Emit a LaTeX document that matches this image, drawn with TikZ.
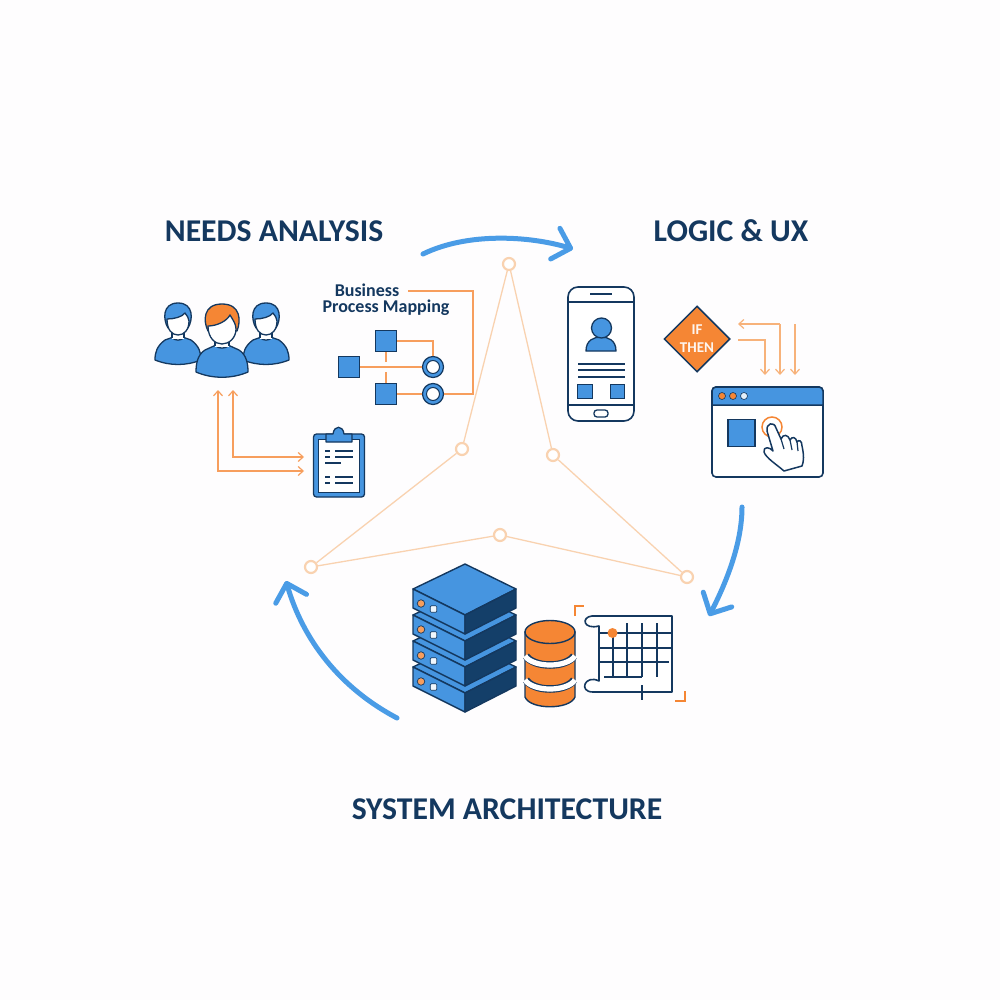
\documentclass[tikz,border=0pt]{standalone}
\usepackage{fontspec}
\setmainfont{Carlito}
\usetikzlibrary{arrows.meta,shapes.geometric}
\definecolor{navy}{HTML}{14385F}
\definecolor{skyblue}{HTML}{4695E0}
\definecolor{flowblue}{HTML}{4A9CE6}
\definecolor{deepblue}{HTML}{143F69}
\definecolor{tangerine}{HTML}{F58634}
\definecolor{peach}{HTML}{F7B27A}
\definecolor{pale}{HTML}{F9D2B0}
\definecolor{paper}{HTML}{FEFDFE}
\begin{document}
\begin{tikzpicture}[x=1pt,y=-1pt]
    \tikzstyle{title} = [text=navy, font=\fontsize{31.7}{34}\selectfont\bfseries, inner sep=0pt]
    \tikzstyle{flow} = [draw=flowblue, line width=5pt, line cap=round, -{Straight Barb[round,length=16pt,width=32pt,line width=5pt]}]
    \tikzstyle{wire} = [draw=tangerine!80!white, line width=1.3pt]
    \tikzstyle{wirearrow} = [wire, -{Straight Barb[length=5pt,width=9pt,line width=1.2pt]}]
    \tikzstyle{mesh} = [draw=pale, line width=1.3pt]
    \tikzstyle{hub} = [circle, draw=pale, fill=white, line width=2.2pt, minimum size=12pt, inner sep=0pt]
    \tikzstyle{sq} = [rectangle, draw=navy, fill=skyblue, line width=1.5pt, minimum size=21pt, inner sep=0pt]
    \tikzstyle{ring} = [circle, draw=navy, fill=skyblue, line width=1.2pt, minimum size=21pt, inner sep=0pt]
    \tikzstyle{outline} = [draw=navy, line width=1.6pt, line join=round]
    \tikzstyle{txtline} = [draw=navy, line width=1.3pt]
    \tikzstyle{body} = [fill=skyblue, draw=navy, line width=1.3pt, line join=round]
    \tikzstyle{small} = [text=navy, font=\fontsize{18}{20}\selectfont\bfseries, inner sep=0pt]

    \fill[paper] (0,0) rectangle (1000,1000);
    \useasboundingbox (0,0) rectangle (1000,1000);

    \node[title] (needs) at (274,231) {NEEDS ANALYSIS};
    \node[title] (logic) at (731,231) {LOGIC \& UX};
    \node[title] (arch) at (507,809) {SYSTEM ARCHITECTURE};

    % network in the middle
    \node[hub] (n1) at (509,264) {};
    \node[hub] (n2) at (462,449) {};
    \node[hub] (n3) at (553,455) {};
    \node[hub] (n4) at (311,567) {};
    \node[hub] (n5) at (500,535) {};
    \node[hub] (n6) at (687,577) {};
    \draw[mesh] (n1) -- (n2);
    \draw[mesh] (n1) -- (n3);
    \draw[mesh] (n2) -- (n4);
    \draw[mesh] (n3) -- (n6);
    \draw[mesh] (n4) -- (n5);
    \draw[mesh] (n5) -- (n6);

    % big arrows
    \coordinate (a1) at (423,254);
    \coordinate (a2) at (573,249);
    \coordinate (b1) at (742,507);
    \coordinate (b2) at (709,616);
    \coordinate (c1) at (397,718);
    \coordinate (c2) at (286,581);
    \draw[flow] (a1) .. controls (468,232) and (530,236) .. (a2);
    \draw[flow] (b1) .. controls (742,545) and (725,585) .. (b2);
    \draw[flow] (c1) .. controls (340,688) and (303,640) .. (c2);

    % people
    \foreach \px in {178,266} {
      \begin{scope}[shift={(\px,322)}]
      \draw[body] (-23,38) .. controls (-23,30) and (-21,24) .. (-13,18) -- (-6,15.5) .. controls (-3,19) and (3,19) .. (6,15.5) -- (13,18) .. controls (21,24) and (23,30) .. (23,38) .. controls (8,44) and (-8,44) .. (-23,38) -- cycle;
      \draw[body] (-10,6) .. controls (-15,-2) and (-16,-19) .. (0,-19) .. controls (16,-19) and (15,-2) .. (10,6) -- cycle;
      \fill[white] (-6,8) rectangle (6,17);
      \draw[draw=navy, line width=1.2pt] (-6,10) -- (-6,15.5) (6,10) -- (6,15.5);
      \draw[outline, fill=white, line width=1.3pt] (-11,-3) .. controls (-4,-3) and (4,-5) .. (7,-9) .. controls (9,-6) and (11,-4) .. (11,-1) .. controls (11,8) and (6,13) .. (0,13) .. controls (-6,13) and (-11,8) .. (-11,-3) -- cycle;
      \end{scope}
    }
    \begin{scope}[shift={(222,335)}]
      \draw[body] (-26,37) .. controls (-26,30) and (-25,20) .. (-17,15) -- (-7,10.5) .. controls (-3,14) and (3,14) .. (7,10.5) -- (17,15) .. controls (25,20) and (26,30) .. (26,37) .. controls (10,44) and (-10,44) .. (-26,37) -- cycle;
      \draw[body, fill=tangerine] (-14,-4) .. controls (-19,-14) and (-19,-31) .. (0,-31) .. controls (19,-31) and (19,-14) .. (15,-4) -- cycle;
      \fill[white] (-7,4) rectangle (7,12);
      \draw[draw=navy, line width=1.2pt] (-7,5) -- (-7,10.5) (7,5) -- (7,10.5);
      \draw[outline, fill=white, line width=1.3pt] (-14,-9) .. controls (-5,-9) and (5,-14) .. (8,-20) .. controls (11,-15) and (14,-11) .. (14,-6) .. controls (14,3) and (7,9) .. (0,9) .. controls (-7,9) and (-14,3) .. (-14,-9) -- cycle;
    \end{scope}

    % clipboard
    \node[rectangle, rounded corners=3pt, draw=navy, fill=skyblue, line width=1.3pt, minimum width=51pt, minimum height=63pt, inner sep=0pt] (clip) at (339,465.5) {};
    \node[rectangle, draw=navy, fill=white, line width=1.2pt, minimum width=41pt, minimum height=53pt, inner sep=0pt] (sheet) at (339,466) {};
    \draw[draw=navy, fill=skyblue, line width=1.3pt, line join=round] (326,442) -- (326,434) -- (333,434) .. controls (334,425) and (343,425) .. (344,434) -- (352,434) -- (352,442) -- cycle;
    \foreach \ly in {451,457,477,483} {
      \draw[txtline] (325,\ly) -- (330,\ly) (335,\ly) -- (353,\ly);
    }
    \draw[txtline] (325,463) -- (341,463);

    % arrows between people and clipboard
    \coordinate (p1) at (218,390);
    \coordinate (p2) at (233,390);
    \coordinate (k1) at (304,471);
    \coordinate (k2) at (304,457);
    \draw[wire, {Straight Barb[length=5pt,width=9pt,line width=1.2pt]}-{Straight Barb[length=5pt,width=9pt,line width=1.2pt]}] (p1) |- (k1);
    \draw[wire, {Straight Barb[length=5pt,width=9pt,line width=1.2pt]}-{Straight Barb[length=5pt,width=9pt,line width=1.2pt]}] (p2) |- (k2);

    % process map
    \node[small] (biz) at (367,290) {Business};
    \node[small] (proc) at (386,308) {Process Mapping};
    \node[sq] (s1) at (386,341) {};
    \node[sq] (s2) at (349,367) {};
    \node[sq] (s3) at (386,394) {};
    \node[ring] (r1) at (433,367) {};
    \node[ring] (r2) at (433,394) {};
    \node[circle, fill=white, draw=navy, line width=1pt, minimum size=13pt, inner sep=0pt] (r1in) at (r1) {};
    \node[circle, fill=white, draw=navy, line width=1pt, minimum size=13pt, inner sep=0pt] (r2in) at (r2) {};
    \coordinate (bizend) at (408,291);
    \draw[wire] (s1) -| (r1);
    \draw[wire] (s2) -- (r1);
    \draw[wire] (s3) -- (r2);
    \draw[wire] (s1) -- (386,362) (386,372) -- (s3);
    \draw[wire] (r2) -- (473,394) |- (bizend);

    % phone
    \node[rectangle, rounded corners=10pt, draw=navy, fill=white, line width=1.6pt, minimum width=66pt, minimum height=134pt, inner sep=0pt] (phone) at (601,354) {};
    \draw[outline] (phone.west |- 0,302) -- (phone.east |- 0,302) (phone.west |- 0,405) -- (phone.east |- 0,405);
    \draw[txtline] (590,294) -- (612,294);
    \node[rectangle, rounded corners=3pt, draw=navy, line width=1.3pt, minimum width=14pt, minimum height=7pt, inner sep=0pt] (home) at (601,413.5) {};
    \draw[body, line width=1.3pt] (586,351) .. controls (586,340) and (594,337) .. (601,337) .. controls (608,337) and (616,340) .. (616,351) -- cycle;
    \draw[draw=navy, fill=skyblue, line width=1.3pt] (601.5,328) circle (10pt);
    \foreach \ly in {364,370,377} {
      \draw[txtline] (578,\ly) -- (625,\ly);
    }
    \node[sq, minimum size=14.5pt, line width=1.2pt] (b1sq) at (585,391.5) {};
    \node[sq, minimum size=14.5pt, line width=1.2pt] (b2sq) at (617.5,391.5) {};

    % if then
    \node[diamond, draw=navy, fill=tangerine, line width=1.5pt, minimum width=66pt, minimum height=66pt, inner sep=0pt, aspect=1, text=white!92!tangerine, align=center, font=\fontsize{15}{18}\selectfont\bfseries] (cond) at (697,339) {IF\\THEN};

    % window
    \node[rectangle, rounded corners=4pt, draw=navy, fill=white, line width=1.6pt, minimum width=111pt, minimum height=90pt, inner sep=0pt] (win) at (767.5,432) {};
    \draw[draw=navy, fill=skyblue, line width=1.5pt] (712,405) [rounded corners=4pt] -- (712,387) -- (823,387) [sharp corners] -- (823,405) -- cycle;
    \node[circle, fill=tangerine, draw=navy, line width=.6pt, minimum size=7pt, inner sep=0pt] (dot1) at (722,396) {};
    \node[circle, fill=tangerine, draw=navy, line width=.6pt, minimum size=7pt, inner sep=0pt] (dot2) at (733,396) {};
    \node[circle, fill=white!85!skyblue, draw=navy, line width=.6pt, minimum size=7pt, inner sep=0pt] (dot3) at (744,396) {};
    \node[sq, minimum size=27pt] (winsq) at (741.5,433) {};
    \draw[draw=tangerine, line width=1.5pt] (772,427) circle (10pt);
    \draw[outline, fill=white, line width=1.5pt] (784,471)
      .. controls (776,464) and (766,458) .. (764,452)
      .. controls (763,446) and (770,447) .. (773,451)
      -- (767,431) .. controls (766,423) and (774,421) .. (776,428)
      -- (781,439) .. controls (783,434) and (788,434) .. (790,440)
      .. controls (792,436) and (796,437) .. (797,442)
      .. controls (799,439) and (802,441) .. (802,446)
      .. controls (804,455) and (804,461) .. (802,466)
      -- cycle;
    \draw[outline, line width=1.2pt] (781,439) -- (784,449) (790,440) -- (792,450) (797,442) -- (798,451);

    % arrows between if then and window
    \coordinate (w1) at (765,375);
    \coordinate (w2) at (780,375);
    \coordinate (w3) at (795,375);
    \coordinate (t1) at (738,324);
    \coordinate (t2) at (780,324);
    \coordinate (t3) at (795,324);
    \coordinate (t4) at (738,340);
    \draw[wirearrow, draw=peach] (t4) -| (w1);
    \draw[wirearrow, draw=peach] (t2) -- (t1);
    \draw[wirearrow, draw=peach] (t2) -- (w2);
    \draw[wirearrow, draw=peach] (t3) -- (w3);

    % servers
    \tikzstyle{front} = [fill=skyblue, draw=navy, line width=1.4pt, line join=round]
    \tikzstyle{side} = [fill=deepblue, draw=navy, line width=1.4pt, line join=round]
    \foreach \sy in {78,52,26,0} {
      \begin{scope}[shift={(0,\sy)}]
      \draw[front] (413,589) -- (465,564) -- (516,589) -- (465,615) -- cycle;
      \draw[front] (413,589) -- (465,615) -- (465,634) -- (413,608) -- cycle;
      \draw[side] (516,589) -- (465,615) -- (465,634) -- (516,608) -- cycle;
      \node[circle, fill=tangerine!80!white, draw=navy, line width=.7pt, minimum size=7.5pt, inner sep=0pt] at (421,603.5) {};
      \node[rectangle, rounded corners=1pt, fill=white!92!skyblue, draw=navy, line width=.7pt, minimum size=6.5pt, inner sep=0pt] at (433.5,609) {};
      \end{scope}
    }

    % cylinder
    \draw[draw=navy, fill=tangerine, line width=1.4pt] (525,632) -- (525,697) .. controls (530,710) and (570,710) .. (575,697) -- (575,632) -- cycle;
    \draw[draw=navy, fill=tangerine, line width=1.4pt] (550,632) ellipse (25pt and 11.5pt);
    \foreach \by in {656,680} {
      \draw[draw=navy, line width=7.5pt] (526,\by) .. controls (534,\by+12) and (566,\by+12) .. (574,\by);
      \draw[draw=white, line width=5.2pt] (525,\by) .. controls (533,\by+12) and (567,\by+12) .. (575,\by);
    }

    % blueprint
    \draw[outline, fill=white] (672,616) -- (592,616) .. controls (581,617) and (583,630) .. (599,626) -- (599,681) .. controls (585,674) and (578,692) .. (593,692) -- (672,692) -- cycle;
    \foreach \gx in {627,642,657} {
      \draw[txtline] (\gx,623) -- (\gx,677);
    }
    \draw[txtline] (613,633) -- (613,677);
    \draw[txtline] (599,633) -- (672,633) (599,648) -- (672,648) (599,662) -- (669,662);
    \draw[txtline] (604,677) -- (642,677);
    \draw[txtline] (642,685) -- (642,700);
    \node[circle, fill=tangerine, minimum size=10pt, inner sep=0pt] (mark1) at (612.5,633) {};
    \draw[draw=tangerine, line width=1.3pt] (575,616) -- (575,606) -- (584,606);
    \draw[draw=tangerine, line width=1.3pt] (675,701) -- (685,701) -- (685,691);
\end{tikzpicture}
\end{document}
